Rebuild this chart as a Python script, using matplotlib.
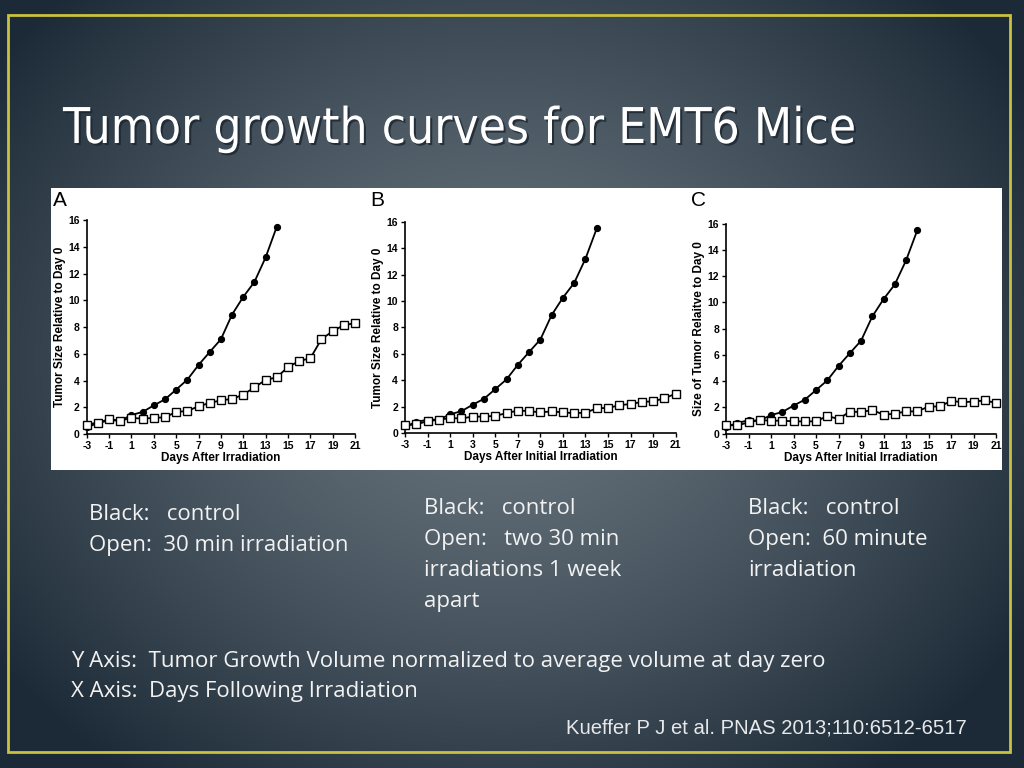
import matplotlib
matplotlib.use("Agg")
import matplotlib.pyplot as plt
import matplotlib.patheffects as pe
import numpy as np
from matplotlib.patches import Rectangle

plt.rcParams["axes.unicode_minus"] = False

# --- data -------------------------------------------------------------------
days_control = list(range(-3, 15))
control = [0.5, 0.82, 1.02, 1.0, 1.42, 1.65, 2.14, 2.59, 3.32, 4.06,
           5.16, 6.13, 7.08, 8.93, 10.25, 11.37, 13.2, 15.5]

days_open = list(range(-3, 22))
open_a = [0.7, 0.85, 1.1, 1.0, 1.2, 1.15, 1.2, 1.25, 1.65, 1.72, 2.07, 2.32,
          2.52, 2.62, 2.94, 3.49, 4.04, 4.24, 5.0, 5.46, 5.66, 7.1, 7.68,
          8.15, 8.28]
open_b = [0.58, 0.65, 0.9, 1.0, 1.13, 1.1, 1.24, 1.24, 1.3, 1.5, 1.7, 1.66,
          1.56, 1.64, 1.56, 1.5, 1.54, 1.87, 1.9, 2.1, 2.2, 2.35, 2.4, 2.63,
          2.98]
open_c = [0.66, 0.63, 0.86, 1.04, 0.99, 0.99, 0.94, 0.94, 0.94, 1.35, 1.12,
          1.68, 1.65, 1.8, 1.45, 1.52, 1.7, 1.7, 2.06, 2.08, 2.49, 2.41, 2.44,
          2.54, 2.34]

panel_letters = ["A", "B", "C"]
x_labels = ["Days After Irradiation", "Days After Initial Irradiation",
            "Days After Initial Irradiation"]
y_labels = ["Tumor Size Relative to Day 0", "Tumor Size Relative to Day 0",
            "Size of Tumor Relaitve to Day 0"]
open_series = [open_a, open_b, open_c]
x_ticks = list(range(-3, 22, 2))
y_ticks = list(range(0, 17, 2))

captions = [
    ["Black:   control", "Open:  30 min irradiation"],
    ["Black:   control", "Open:   two 30 min", "irradiations 1 week", "apart"],
    ["Black:   control", "Open:  60 minute", "irradiation"],
]

W, H = 1024, 768
fig = plt.figure(figsize=(W / 100, H / 100), dpi=100)

# background: radial blue-grey gradient
bg = fig.add_axes([0, 0, 1, 1])
yy, xx = np.mgrid[0:H, 0:W]
r = np.sqrt(((xx - 500) / 620.0) ** 2 + ((yy - 360) / 520.0) ** 2)
r = np.clip(r, 0, 1)
inner = np.array([0x66, 0x73, 0x7c]) / 255.0
outer = np.array([0x1c, 0x2a, 0x37]) / 255.0
w = r[..., None] ** 1.4
img = inner[None, None, :] * (1 - w) + outer[None, None, :] * w
bg.imshow(img, extent=[0, W, H, 0], aspect="auto", interpolation="bilinear")
bg.set_xlim(0, W)
bg.set_ylim(H, 0)
bg.axis("off")

# yellow frame
bg.add_patch(Rectangle((8, 15), 1002, 737, fill=False, edgecolor="#c9c23c", linewidth=2))
# white figure area
bg.add_patch(Rectangle((51, 188), 951, 282, facecolor="white", edgecolor="none"))

# title
bg.text(63, 129, "Tumor growth curves for EMT6 Mice", color="white", fontsize=35.5,
        family="DejaVu Sans", fontstretch="condensed",
        va="center", ha="left",
        path_effects=[pe.withSimplePatchShadow(offset=(1.5, -1.5), shadow_rgbFace="#1a2530", alpha=0.8)])

axes_rects = [
    [0.0847, 0.4349, 0.2620, 0.2786],
    [0.3955, 0.4362, 0.2644, 0.2751],
    [0.7090, 0.4353, 0.2637, 0.2734],
]
letter_x = [53, 370, 691]

for i, rect in enumerate(axes_rects):
    ax = fig.add_axes(rect)
    ax.patch.set_alpha(0)
    ax.plot(days_control, control, color="black", lw=1.3, marker="o", ms=4.2,
            mfc="black", mec="black", clip_on=False, zorder=3)
    ax.plot(days_open, open_series[i], color="black", lw=1.3, marker="s", ms=5.2,
            mfc="white", mec="black", mew=1.0, clip_on=False, zorder=4)
    ax.set_xlim(-3, 21)
    ax.set_ylim(0, 16)
    ax.set_xticks(x_ticks)
    ax.set_yticks(y_ticks)
    for s in ["top", "right"]:
        ax.spines[s].set_visible(False)
    for s in ["left", "bottom"]:
        ax.spines[s].set_linewidth(1.2)
    ax.tick_params(direction="out", length=3, width=1.0, labelsize=7.5, pad=2)
    for lab in ax.get_xticklabels() + ax.get_yticklabels():
        lab.set_fontweight("bold")
        lab.set_family("Liberation Sans")
    ax.set_xlabel(x_labels[i], fontsize=8.5, fontweight="bold", family="Liberation Sans", labelpad=1)
    ax.set_ylabel(y_labels[i], fontsize=8.5, fontweight="bold", family="Liberation Sans", labelpad=2)
    bg.text(letter_x[i], 200, panel_letters[i], fontsize=15, family="Liberation Sans",
            va="center", ha="left", color="black")

# captions below the panels
body = dict(color="#f2f2f2", fontsize=16, family="Open Sans", va="center", ha="left")
cap_pos = [(89, 515), (424, 509), (748, 509)]
for (x0, y0), lines in zip(cap_pos, captions):
    for k, line in enumerate(lines):
        bg.text(x0, y0 + k * 31, line, **body)

bg.text(71, 662, "Y Axis:  Tumor Growth Volume normalized to average volume at day zero", **body)
bg.text(71, 692, "X Axis:  Days Following Irradiation", **body)

bg.text(566, 728, "Kueffer P J et al. PNAS 2013;110:6512-6517", color="#e6e8ea",
        fontsize=14.6, family="Liberation Sans", va="center", ha="left")

fig.savefig("out.png", dpi=100)
